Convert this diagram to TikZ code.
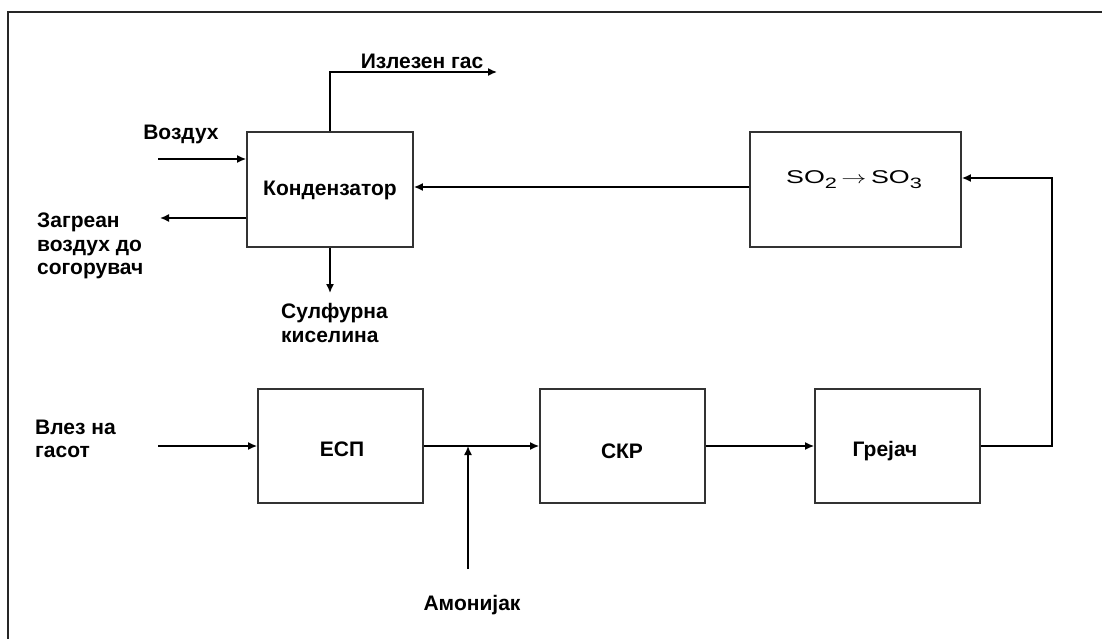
\documentclass[tikz,border=0pt]{standalone}
\usepackage{fontspec}
\setmainfont{Liberation Sans}
\usetikzlibrary{arrows.meta}
\tikzset{
  blk/.style={draw=black!80, line width=1.8pt, fill=white, inner sep=0pt},
  lbl/.style={font=\fontsize{21}{23.5}\selectfont\bfseries, inner sep=0pt},
  arr/.style={draw=black, line width=1.5pt, -{Latex[length=9pt,width=8pt]}},
  frame/.style={draw=black!85, line width=1.5pt}
}
\newcommand{\subsc}[1]{\raisebox{-5pt}{\fontsize{15}{15}\selectfont #1}}
\begin{document}
\begin{tikzpicture}[x=1pt,y=-1pt]
\useasboundingbox (0,0) rectangle (1102,639);
\coordinate (fb) at (8,639);
\coordinate (ftl) at (8,12);
\coordinate (ftr) at (1102,12);
\draw[frame] (fb) -- (ftl) -- (ftr);

% boxes
\node[blk, minimum width=166pt, minimum height=115pt] (cond) at (330,189.5) {};
\node[lbl] (condtxt) at (330,190) {Кондензатор};
\node[blk, minimum width=211pt, minimum height=115pt] (so2) at (855.5,189.5) {};
\node[inner sep=0pt, font=\fontsize{18.5}{20}\selectfont] (so2txt) at (854,180)
  {\scalebox{1.45}[1]{SO\subsc{2}\,$\rightarrow$\,SO\subsc{3}}};
\node[blk, minimum width=165pt, minimum height=114pt] (esp) at (340.5,446) {};
\node[lbl] (esptxt) at (342,449) {ЕСП};
\node[blk, minimum width=165pt, minimum height=114pt] (skr) at (622.5,446) {};
\node[lbl] (skrtxt) at (622,451) {СКР};
\node[blk, minimum width=165pt, minimum height=114pt] (grej) at (897.5,446) {};
\node[lbl] (grejtxt) at (885,451) {Грејач};

% labels
\node[lbl] (gaslbl) at (422,61) {Излезен гас};
\node[lbl] (airlbl) at (181,134) {Воздух};
\node[lbl, anchor=west, align=left] (hotlbl) at (37,246) {Загреан\\воздух до\\согорувач};
\node[lbl, anchor=west, align=left] (acidlbl) at (281,323) {Сулфурна\\киселина};
\node[lbl, anchor=west, align=left] (inlbl) at (35,439) {Влез на\\гасот};
\node[lbl] (nh3lbl) at (472,605) {Амонијак};

% connector free ends
\coordinate (vin) at (158,159);
\coordinate (hout) at (160,218);
\coordinate (gout) at (497,72);
\coordinate (sout) at (330,293);
\coordinate (gin) at (158,446);
\coordinate (nh3) at (468,569);
\coordinate (ret) at (1052,178);

% connectors
\draw[arr] (vin) -- (vin -| cond.west);
\draw[arr] (hout -| cond.west) -- (hout);
\draw[arr] (cond.north) -- (cond.north |- gout) -- (gout);
\draw[arr] (cond.south) -- (sout);
\draw[arr] ([yshift=2.5pt]so2.west) -- ([yshift=2.5pt]cond.east);
\draw[arr] (gin) -- (esp.west);
\draw[arr] (esp.east) -- (skr.west);
\draw[arr] (nh3) -- (nh3 |- esp.east);
\draw[arr] (skr.east) -- (grej.west);
\draw[arr] (grej.east) -| (ret) -- (ret -| so2.east);
\end{tikzpicture}
\end{document}
